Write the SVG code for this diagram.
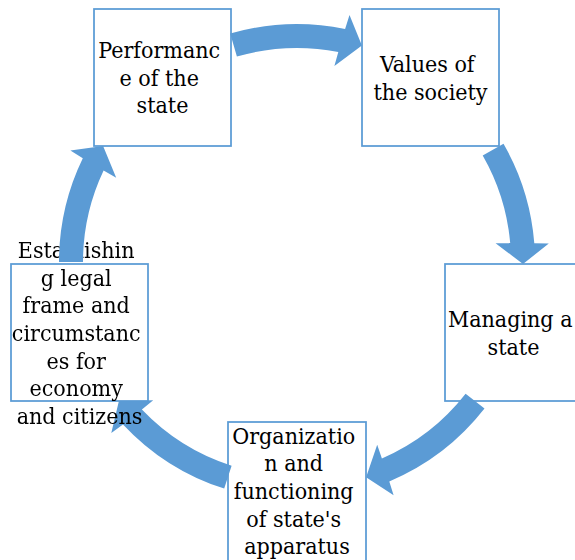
<svg xmlns="http://www.w3.org/2000/svg" xmlns:xlink="http://www.w3.org/1999/xlink" width="575" height="560" viewBox="0 0 575 560">
  <style>
    .box { fill: #ffffff; stroke: #5b9bd5; stroke-width: 1.75; }
    .label { font-family: "DejaVu Serif Condensed", "DejaVu Serif", serif; font-size: 23px; fill: #000000; text-anchor: middle; }
    .arrow { fill: #5b9bd5; stroke: none; }
  </style>
  <defs>
    <!-- curved block arrows on a circle centred at (297,262): shaft radii 214/238 -->
    <path id="arrow-1-2" d="M230.2,33.6 A238,238 0 0 1 345.1,28.9 L349.5,15.0 L361.9,45.5 L334.4,66.0 L338.3,52.0 A214,214 0 0 0 236.9,56.6 Z"/>
    <path id="arrow-2-3" d="M503.5,143.7 A238,238 0 0 1 534.3,243.2 L548.8,243.5 L523.0,264.0 L495.6,243.2 L510.2,243.1 A214,214 0 0 0 482.7,155.6 Z"/>
    <path id="arrow-3-4" d="M484.5,408.5 A238,238 0 0 1 389.3,481.4 L393.6,495.3 L366.1,477.2 L377.2,444.7 L381.9,458.5 A214,214 0 0 0 465.6,393.8 Z"/>
    <path id="arrow-4-5" d="M224.2,488.6 A238,238 0 0 1 123.0,424.4 L111.3,433.1 L118.9,401.1 L153.2,400.3 L141.9,409.5 A214,214 0 0 0 231.6,465.7 Z"/>
    <path id="arrow-5-1" d="M59,262 A238,238 0 0 1 82.8,158.2 L70.4,150.5 L103.1,145.9 L116.2,177.7 L103.6,170.4 A214,214 0 0 0 83,262 Z"/>
    <!-- the arrow leaving the last box runs over its overflowing first line -->
    <mask id="under-arrow-5-1" maskUnits="userSpaceOnUse" x="0" y="0" width="575" height="560">
      <rect x="0" y="0" width="575" height="560" fill="#ffffff"/>
      <use xlink:href="#arrow-5-1" fill="#000000"/>
    </mask>
  </defs>

  <g id="node-performance">
    <rect class="box" x="94" y="9" width="137" height="137"/>
    <text class="label">
      <tspan x="162.5" y="58">Performanc</tspan>
      <tspan x="162.5" y="85.7">e of the</tspan>
      <tspan x="162.5" y="113.4">state</tspan>
    </text>
  </g>

  <g id="node-values">
    <rect class="box" x="362" y="9" width="137" height="137"/>
    <text class="label">
      <tspan x="430.5" y="71.8">Values of</tspan>
      <tspan x="430.5" y="99.5">the society</tspan>
    </text>
  </g>

  <g id="node-managing">
    <rect class="box" x="445" y="264" width="137" height="137"/>
    <text class="label">
      <tspan x="513.5" y="326.8">Managing a</tspan>
      <tspan x="513.5" y="354.5">state</tspan>
    </text>
  </g>

  <g id="node-organization">
    <rect class="box" x="228" y="422" width="138" height="140"/>
    <text class="label">
      <tspan x="297" y="443.6">Organizatio</tspan>
      <tspan x="297" y="471.3">n and</tspan>
      <tspan x="297" y="499">functioning</tspan>
      <tspan x="297" y="526.7">of state's</tspan>
      <tspan x="297" y="554.4">apparatus</tspan>
    </text>
  </g>

  <g id="connectors">
    <use class="arrow" xlink:href="#arrow-1-2"/>
    <use class="arrow" xlink:href="#arrow-2-3"/>
    <use class="arrow" xlink:href="#arrow-3-4"/>
    <use class="arrow" xlink:href="#arrow-4-5"/>
    <use class="arrow" xlink:href="#arrow-5-1"/>
  </g>

  <g id="node-establishing">
    <rect class="box" x="11" y="264" width="137" height="137"/>
    <text class="label" mask="url(#under-arrow-5-1)">
      <tspan x="79.5" y="257.8">Establishin</tspan>
      <tspan x="79.5" y="285.5">g legal</tspan>
      <tspan x="79.5" y="313.2">frame and</tspan>
      <tspan x="79.5" y="340.9">circumstanc</tspan>
      <tspan x="79.5" y="368.6">es for</tspan>
      <tspan x="79.5" y="396.3">economy</tspan>
      <tspan x="79.5" y="424">and citizens</tspan>
    </text>
  </g>
</svg>
